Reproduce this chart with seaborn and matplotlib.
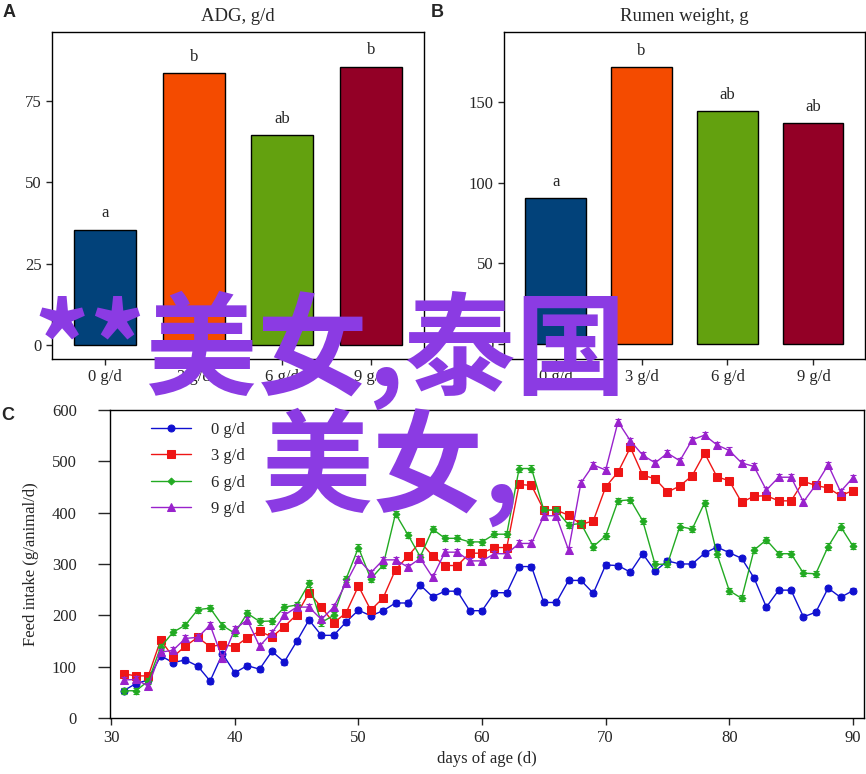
import numpy as np
import pandas as pd
import matplotlib
matplotlib.use("Agg")
import matplotlib.pyplot as plt
import seaborn as sns

groups = ["0 g/d", "3 g/d", "6 g/d", "9 g/d"]
bar_colors = ["#02427A", "#F44B00", "#63A10F", "#930026"]

adg = [35.4, 83.5, 64.5, 85.5]
adg_letters = ["a", "b", "ab", "b"]
rumen = [90.4, 171.3, 144.0, 136.7]
rumen_letters = ["a", "b", "ab", "ab"]

days = list(range(31, 91))
intake_0 = [53, 67, 74, 121, 108, 113, 101, 72, 125, 88,
            102, 95, 130, 109, 149, 191, 161, 161, 187, 210,
            199, 209, 224, 224, 259, 236, 247, 247, 209, 209,
            244, 244, 295, 295, 225, 225, 268, 268, 243, 298,
            297, 284, 320, 286, 306, 300, 300, 321, 333, 322,
            311, 273, 216, 249, 249, 197, 206, 253, 235, 248]
intake_3 = [86, 82, 82, 152, 119, 140, 157, 139, 143, 139,
            156, 169, 158, 178, 201, 244, 216, 185, 205, 257,
            210, 234, 289, 315, 343, 316, 297, 297, 321, 321,
            332, 332, 455, 453, 405, 405, 395, 377, 384, 450,
            479, 527, 473, 466, 440, 452, 472, 516, 470, 462,
            420, 432, 433, 423, 423, 461, 453, 448, 433, 443]
intake_6 = [53, 53, 72, 138, 167, 181, 211, 214, 180, 165,
            204, 188, 189, 216, 220, 262, 186, 200, 271, 332,
            271, 298, 398, 357, 314, 368, 350, 350, 343, 343,
            358, 358, 486, 486, 405, 405, 376, 379, 334, 355,
            423, 425, 384, 299, 300, 373, 368, 419, 320, 248,
            233, 327, 347, 320, 320, 282, 281, 334, 373, 335]
intake_9 = [74, 75, 62, 128, 132, 155, 157, 181, 116, 173,
            191, 140, 166, 200, 216, 216, 192, 216, 263, 309,
            283, 308, 308, 294, 311, 274, 323, 323, 306, 306,
            320, 320, 340, 340, 394, 394, 327, 458, 493, 483,
            577, 540, 512, 497, 516, 501, 542, 551, 532, 521,
            497, 490, 444, 469, 469, 421, 454, 493, 441, 468]
series_err = [5, 6, 6, 6]

line_colors = ["#1010D0", "#EE1515", "#22AA22", "#9922CC"]
line_markers = ["o", "s", "D", "^"]
marker_sizes = [5, 5.5, 3.5, 5.5]

sns.set_style("ticks")
plt.rcParams["font.family"] = ["Liberation Serif", "DejaVu Serif"]
plt.rcParams["axes.linewidth"] = 1.0
plt.rcParams["xtick.major.size"] = 4
plt.rcParams["ytick.major.size"] = 4

fig = plt.figure(figsize=(8.66, 7.74), dpi=100)
axA = fig.add_axes([0.060, 0.5362, 0.4296, 0.4225])
axB = fig.add_axes([0.582, 0.5362, 0.4168, 0.4225])
axC = fig.add_axes([0.127, 0.0724, 0.8707, 0.3979])


def bar_panel(ax, values, letters, title, ylim, yticks):
    sns.barplot(x=groups, y=values, hue=groups, palette=bar_colors, legend=False,
                width=0.7, edgecolor="black", linewidth=1, saturation=1, ax=ax)
    for i, (v, t) in enumerate(zip(values, letters)):
        ax.annotate(t, (i, v), xytext=(0, 6), textcoords="offset points",
                    ha="center", va="bottom", fontsize=12)
    ax.set_xlim(-0.6, 3.6)
    ax.set_ylim(*ylim)
    ax.set_yticks(yticks)
    ax.set_title(title, fontsize=13.5, pad=8)
    ax.set_xlabel("")
    ax.set_ylabel("")
    ax.tick_params(labelsize=12, direction="out", width=1)
    for s in ax.spines.values():
        s.set_visible(True)
        s.set_color("black")


bar_panel(axA, adg, adg_letters, "ADG, g/d", (-4.3, 96.2), [0, 25, 50, 75])
bar_panel(axB, rumen, rumen_letters, "Rumen weight, g", (-9, 193), [0, 50, 100, 150])

all_series = [intake_0, intake_3, intake_6, intake_9]
for vals, c, m, ms, err, lbl in zip(all_series, line_colors, line_markers,
                                    marker_sizes, series_err, groups):
    axC.errorbar(days, vals, yerr=err, fmt="none", ecolor=c, elinewidth=0.8,
                 capsize=2.5, capthick=0.8)
    sns.lineplot(x=days, y=vals, color=c, marker=m, markersize=ms,
                 markeredgecolor=c, linewidth=1, label=lbl, ax=axC)

axC.set_xlim(29.9, 90.9)
axC.set_ylim(0, 600)
axC.set_xticks([30, 40, 50, 60, 70, 80, 90])
axC.set_yticks([0, 100, 200, 300, 400, 500, 600])
axC.tick_params(labelsize=12, direction="out", width=1)
axC.tick_params(axis="y", length=9, pad=15)
axC.tick_params(axis="x", length=5, pad=4)
axC.set_xlabel("days of age (d)", fontsize=12, labelpad=3)
axC.set_ylabel("Feed intake (g/animal/d)", fontsize=12, labelpad=9)
for s in axC.spines.values():
    s.set_visible(True)
    s.set_color("black")
axC.legend(loc="upper left", bbox_to_anchor=(0.035, 1.01), frameon=False,
           fontsize=12, handlelength=2.4, labelspacing=0.62, handletextpad=1.2)

lf = ["Liberation Sans", "DejaVu Sans"]
fig.text(0.003, 0.984, "A", fontsize=13, fontweight="bold", family=lf, va="center")
fig.text(0.497, 0.984, "B", fontsize=13, fontweight="bold", family=lf, va="center")
fig.text(0.002, 0.463, "C", fontsize=13, fontweight="bold", family=lf, va="center")

cjk = ["Noto Sans CJK SC", "DejaVu Sans"]
wm = "#8B3BE3"
fig.text(33 / 866, 1 - 386 / 774, "**美女,泰国", fontsize=80, color=wm,
         fontweight="bold", family=cjk, ha="left", va="baseline")
fig.text(262 / 866, 1 - 503 / 774, "美女,", fontsize=80, color=wm,
         fontweight="bold", family=cjk, ha="left", va="baseline")

fig.savefig("out.png", dpi=100)
